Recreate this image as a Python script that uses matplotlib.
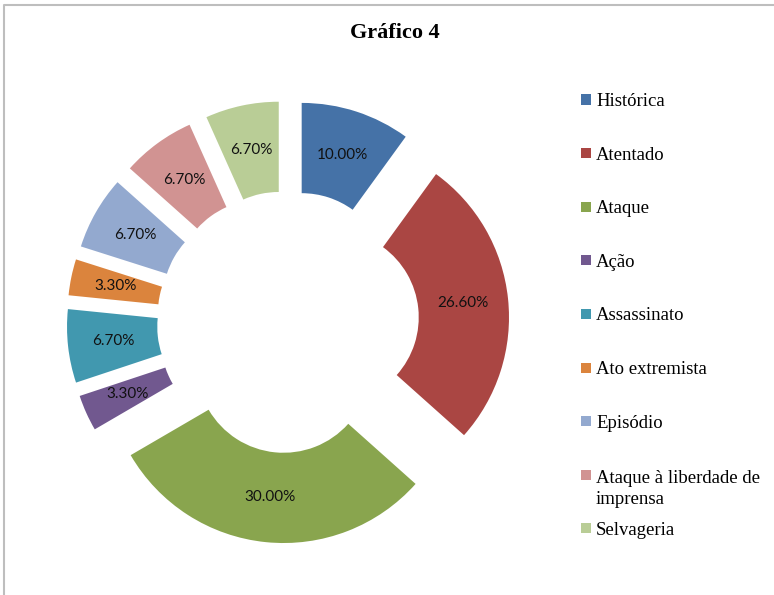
#donut chart "Grafico 4" - share of each term, exploded ring like the excel original
import matplotlib.pyplot as plt
from matplotlib.lines import Line2D
from matplotlib.patches import Rectangle

categorias = ['Histórica', 'Atentado', 'Ataque', 'Ação', 'Assassinato',
              'Ato extremista', 'Episódio', 'Ataque à liberdade de\nimprensa',
              'Selvageria']
valores = [10.0, 26.6, 30.0, 3.3, 6.7, 3.3, 6.7, 6.7, 6.7]
cores = ['#4572A7', '#AA4643', '#89A54E', '#71588F', '#4198AF',
         '#DB843D', '#93A9CF', '#D19392', '#B9CD96']

W, H = 774, 595
fig = plt.figure(figsize=(W / 100, H / 100), dpi=100)

# axes is a square so the ring stays round, center ~ (288, 322) px
S = 531
ax = fig.add_axes([(288 - S / 2) / W, 1 - (322 + S / 2) / H, S / W, S / H])

wedges, texts, autotexts = ax.pie(
    valores, colors=cores, startangle=90, counterclock=False,
    explode=[0.25] * len(valores), radius=1.0,
    wedgeprops=dict(width=0.51, linewidth=0),
    autopct=lambda p: '%.2f%%' % p, pctdistance=0.745,
    textprops=dict(fontsize=11, family=['Lato', 'DejaVu Sans'], color='#111111'))
ax.set_xlim(-1.5, 1.5)
ax.set_ylim(-1.5, 1.5)
ax.set_aspect('equal')
ax.axis('off')

fig.text(395 / W, 1 - 33 / H, 'Gráfico 4', ha='center', va='center',
         fontsize=16, fontweight='bold', family='Liberation Serif')

# legend drawn by hand, evenly spaced like excel (multi line entry hangs down)
y0 = 99.5
passo = 53.6
entrelinha = 22.5
for i, (lab, cor) in enumerate(zip(categorias, cores)):
    y = y0 + i * passo
    fig.patches.append(Rectangle((580.5 / W, 1 - (y + 5) / H), 10 / W, 10 / H,
                                 transform=fig.transFigure, facecolor=cor,
                                 edgecolor='none'))
    # baseline goes on the last line, so push multi line labels down
    yb = y + 6.5 + lab.count('\n') * entrelinha
    fig.text(596 / W, 1 - yb / H, lab, ha='left', va='baseline',
             fontsize=13.5, family='Liberation Serif', color='black',
             linespacing=1.25)

# gray chart border, only top and left show in the crop
fig.lines.append(Line2D([4 / W, 4 / W, 1.0], [0.0, 1 - 5 / H, 1 - 5 / H],
                        transform=fig.transFigure, color='#BEBEBE', linewidth=1.5))

plt.savefig('out.png', dpi=100)
